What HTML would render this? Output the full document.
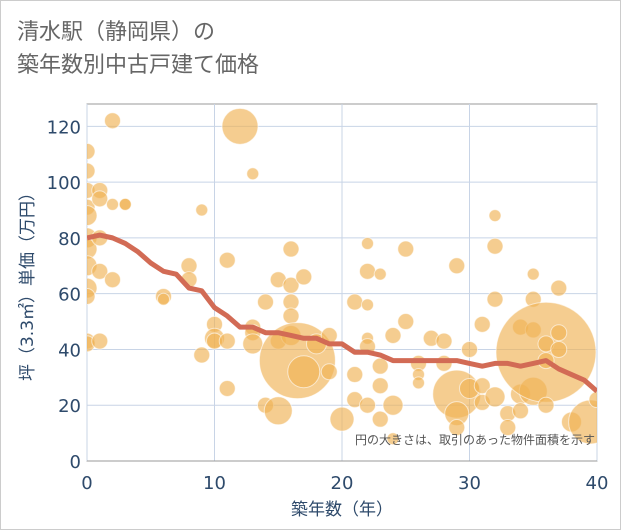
<!DOCTYPE html>
<html><head><meta charset="utf-8"><style>
body{margin:0;background:#fff;}
#wrap{position:relative;width:619px;height:528px;border:1px solid #ccc;background:#fff;font-family:"DejaVu Sans","Noto Sans CJK JP",sans-serif;}
#title{position:absolute;left:16px;top:14px;font-size:22px;line-height:33px;color:#666;font-family:"Liberation Sans","Noto Sans CJK JP",sans-serif;}
svg{position:absolute;left:0;top:0;}
</style></head><body>
<div id="wrap">
<div id="title">清水駅（静岡県）の<br>築年数別中古戸建て価格</div>
<svg id="chart" width="621" height="530"><defs><clipPath id="clip"><rect x="86" y="103" width="510" height="357"/></clipPath></defs></svg>
</div>
<script>
const xTicks=[0,10,20,30,40];
const yTicks=[0,20,40,60,80,100,120];
const trendAge=[0,1,2,3,4,5,6,7,8,9,10,11,12,13,14,15,16,17,18,19,20,21,22,23,24,25,26,27,28,29,30,31,32,33,34,35,36,37,38,39,40];
const trendVal=[80,81,80,78,75,71,68,67,62,61,55,52,48,48,46,46,45,44,44,42,42,39,39,38,36,36,36,36,36,36,35,34,35,35,34,35,36,33,31,29,25];
const bubX=[0,0,0,0,0,0,0,0,0,0,0,0,
1,1,1,1,1,2,2,2,3,3,6,6,8,8,9,9,10,10,10,11,11,11,
12,13,13,13,13,14,14,15,15,15,16,16,16,16,16,16.5,17,17,18,19,19,
20,21,21,21,22,22,22,22,22,22,23,23,23,23,24,24,24,25,25,26,26,26,27,28,28,
29,29,29,29,30,30,31,31,31,
32,32,32,32,33,33,34,34,34,35,35,35,35,36,36,36,36,37,37,37,38,39.5,40];
const bubY=[111,104,97,91,88,80,76,70,62,59,43,42,
97,94,80,68,43,122,92,65,92,92,59,58,70,65,90,38,49,44,43,72,43,26,
120,103,48,46,42,20,57,65,43,18,76,63,57,52,45,36,66,32,42,45,32,
15,57,31,22,78,68,56,44,41,20,67,34,27,15,45,20,8,76,50,35,31,28,44,43,35,
70,24,17,12,40,26,49,27,21,
88,77,58,23,17,12,48,24,18,67,58,47,25,39,42,36,20,62,46,40,14,14,22];
const bubR=[8,8,8,8,10,10,10,10,10,8,8,8,
8,8,8,8,8,8,6,8,6,6,8,6,8,8,6,8,8,10,8,8,8,8,
18,6,8,8,10,8,8,8,8,14,8,8,8,8,10,38,8,16,10,8,8,
12,8,8,8,6,8,6,6,8,8,6,8,8,8,8,10,6,8,8,8,6,6,8,8,8,
8,24,12,8,8,10,8,8,8,
6,8,8,10,8,8,8,10,8,6,8,8,14,50,8,8,8,8,8,8,10,22,8];
const L=86,R=596,T=103,B=460,xMax=40,yMax=128;
const sx=v=>L+(v/xMax)*(R-L);
const sy=v=>B-(v/yMax)*(B-T);
const svg=document.getElementById('chart');
const NS='http://www.w3.org/2000/svg';
function mk(tag,attrs,parent){const e=document.createElementNS(NS,tag);for(const k in attrs)e.setAttribute(k,attrs[k]);(parent||svg).appendChild(e);return e;}
const frame=mk('rect',{x:L,y:T,width:R-L,height:B-T,fill:'#fff',stroke:'#999','stroke-width':1});


xTicks.forEach(t=>{
  const g=mk('line',{x1:sx(t),x2:sx(t),y1:T,y2:B,stroke:'#c8d4e6','stroke-width':1});
  
  
  const tx=mk('text',{x:sx(t),y:B+28,'text-anchor':'middle','font-size':18,fill:'#2e4a6b'});
  tx.textContent=t;
  
  
});
yTicks.forEach(t=>{
  const g=mk('line',{x1:L,x2:R,y1:sy(t),y2:sy(t),stroke:'#c8d4e6','stroke-width':1});
  
  
  const tx=mk('text',{x:L-6,y:sy(t)+7,'text-anchor':'end','font-size':18,fill:'#2e4a6b'});
  tx.textContent=t;
  
  
});
const grp=mk('g',{'clip-path':'url(#clip)'});


for(let i=0;i<bubX.length;i++){
  const c=mk('circle',{cx:sx(bubX[i]),cy:sy(bubY[i]),r:bubR[i],fill:'#f0b255','fill-opacity':0.65,stroke:'#fff','stroke-opacity':0.6,'stroke-width':1},grp);
  
  
}
const pts=trendAge.map((a,i)=>sx(a)+','+sy(trendVal[i])).join(' ');
const pl=mk('polyline',{points:pts,fill:'none',stroke:'#d26b55','stroke-width':5,'stroke-linejoin':'round'},grp);


const bl=mk('line',{x1:L,x2:R,y1:B,y2:B,stroke:'#999','stroke-width':1});


const note=mk('text',{x:R-2,y:443,'text-anchor':'end','font-size':12,fill:'#555','font-family':'"Liberation Sans","Noto Sans CJK JP",sans-serif'});
note.textContent='円の大きさは、取引のあった物件面積を示す';


const xt=mk('text',{x:(L+R)/2,y:514,'text-anchor':'middle','font-size':17,fill:'#2e4a6b'});
xt.textContent='築年数（年）';


const yt=mk('text',{x:0,y:0,'text-anchor':'middle','font-size':17,fill:'#2e4a6b',transform:'translate(32,'+((T+B)/2)+') rotate(-90)'});
yt.textContent='坪（3.3㎡）単価（万円）';


</script>
</body></html>
